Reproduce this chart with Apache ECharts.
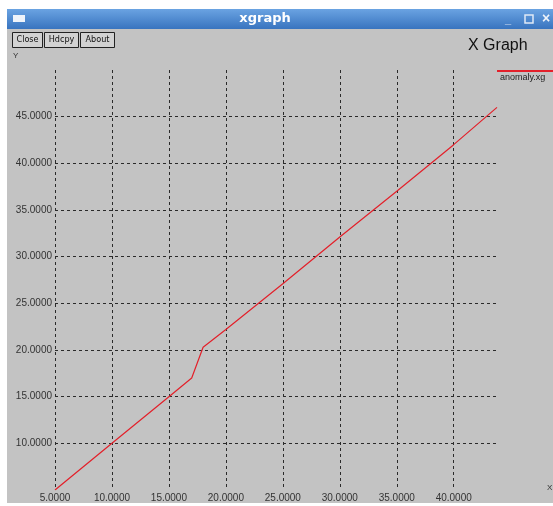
<!DOCTYPE html>
<html>
<head>
<meta charset="utf-8">
<script src="https://cdn.jsdelivr.net/npm/echarts@6/dist/echarts.min.js"></script>
<style>
  html, body { margin: 0; padding: 0; background: #fff; }
  #chart { width: 553px; height: 506px; }
</style>
</head>
<body>
<div id="chart"></div>
<script>
// anomaly.xg
const xs = [5, 10, 15, 17, 18, 20, 25, 30, 35, 40, 43.8]
const ys = [5, 10, 15, 17, 20.3, 22.2, 27.1, 32.1, 37.0, 42.0, 46.0]
const seriesName = 'anomaly.xg'
const buttons = ['Close', 'Hdcpy', 'About']

const GRID = '#2a2a2a'
const LABEL = '#333'
const BG = '#c3c3c3'

const chart = echarts.init(document.getElementById('chart'))

// window chrome (title bar, buttons, captions) as graphic elements
const btnX = [12, 44, 80]
const btnW = [30, 34, 34]
const chrome = [
  { type: 'rect', z: -10, shape: { x: 7, y: 9, width: 546, height: 494 }, style: { fill: BG } },
  {
    type: 'rect', z: 10, shape: { x: 7, y: 9, width: 546, height: 20 },
    style: {
      fill: new echarts.graphic.LinearGradient(0, 0, 0, 1, [
        { offset: 0, color: '#6aa3e2' },
        { offset: 1, color: '#3874bf' },
      ]),
    },
  },
  { type: 'rect', z: 11, shape: { x: 13, y: 15, width: 12, height: 7 }, style: { fill: '#eef3fa' } },
  {
    type: 'text', z: 11, x: 265, y: 19,
    style: { text: 'xgraph', fill: '#fff', font: 'bold 13px "DejaVu Sans", sans-serif', align: 'center', verticalAlign: 'middle' },
  },
  { type: 'text', z: 11, x: 508, y: 20, style: { text: '_', fill: '#dfe9f6', font: 'bold 11px sans-serif', align: 'center', verticalAlign: 'middle' } },
  { type: 'rect', z: 11, shape: { x: 525, y: 15, width: 8, height: 8 }, style: { fill: 'none', stroke: '#dfe9f6', lineWidth: 1.5 } },
  { type: 'text', z: 11, x: 546, y: 19, style: { text: '×', fill: '#eef3fa', font: 'bold 14px sans-serif', align: 'center', verticalAlign: 'middle' } },
  ...buttons.flatMap((b, i) => [
    { type: 'rect', z: 11, shape: { x: btnX[i] + 0.5, y: 32.5, width: btnW[i], height: 15 }, style: { fill: '#d2d2d2', stroke: '#222', lineWidth: 1 } },
    {
      type: 'text', z: 12, x: btnX[i] + btnW[i] / 2 + 0.5, y: 40,
      style: { text: b, fill: '#111', font: '9px "Liberation Sans Narrow", "DejaVu Sans Condensed", sans-serif', align: 'center', verticalAlign: 'middle' },
    },
  ]),
  { type: 'text', z: 11, x: 468, y: 46, style: { text: 'X Graph', fill: '#111', font: '16px "Liberation Sans", Arial, sans-serif', verticalAlign: 'middle' } },
  { type: 'text', z: 11, x: 13, y: 56, style: { text: 'Y', fill: '#333', font: '8px "Liberation Sans", sans-serif', verticalAlign: 'middle' } },
  { type: 'text', z: 11, x: 547, y: 488, style: { text: 'X', fill: '#333', font: '8px "Liberation Sans", sans-serif', verticalAlign: 'middle' } },
  // legend: red stroke with the file name underneath
  { type: 'line', z: 11, shape: { x1: 497, y1: 71, x2: 553, y2: 71 }, style: { stroke: '#e3202a', lineWidth: 2 } },
  { type: 'text', z: 11, x: 500, y: 78, style: { text: seriesName, fill: '#222', font: '9px "Liberation Sans", sans-serif', verticalAlign: 'middle' } },
]

chart.setOption({
  animation: false,
  backgroundColor: 'transparent',
  graphic: chrome,
  grid: { left: 55, right: 56, top: 70, bottom: 16 },
  xAxis: {
    type: 'value',
    min: 5,
    max: 43.8,
    interval: 5,
    axisLine: { show: false },
    axisTick: { show: false },
    axisLabel: {
      color: LABEL,
      fontSize: 10,
      fontFamily: '"Liberation Sans", Arial, sans-serif',
      margin: 3,
      showMaxLabel: false,
      formatter: (v) => v.toFixed(4),
    },
    splitLine: { show: true, showMaxLine: false, lineStyle: { color: GRID, type: [3, 3], width: 1 } },
  },
  yAxis: {
    type: 'value',
    min: 5,
    max: 50,
    interval: 5,
    axisLine: { show: false },
    axisTick: { show: false },
    axisLabel: {
      color: LABEL,
      fontSize: 10,
      fontFamily: '"Liberation Sans", Arial, sans-serif',
      margin: 3,
      showMinLabel: false,
      showMaxLabel: false,
      formatter: (v) => v.toFixed(4),
    },
    splitLine: { show: true, showMinLine: false, showMaxLine: false, lineStyle: { color: GRID, type: [3, 3], width: 1 } },
  },
  series: [
    {
      name: seriesName,
      type: 'line',
      data: xs.map((x, i) => [x, ys[i]]),
      symbol: 'none',
      lineStyle: { color: '#e3202a', width: 1.2 },
      z: 5,
    },
  ],
})
</script>
</body>
</html>
